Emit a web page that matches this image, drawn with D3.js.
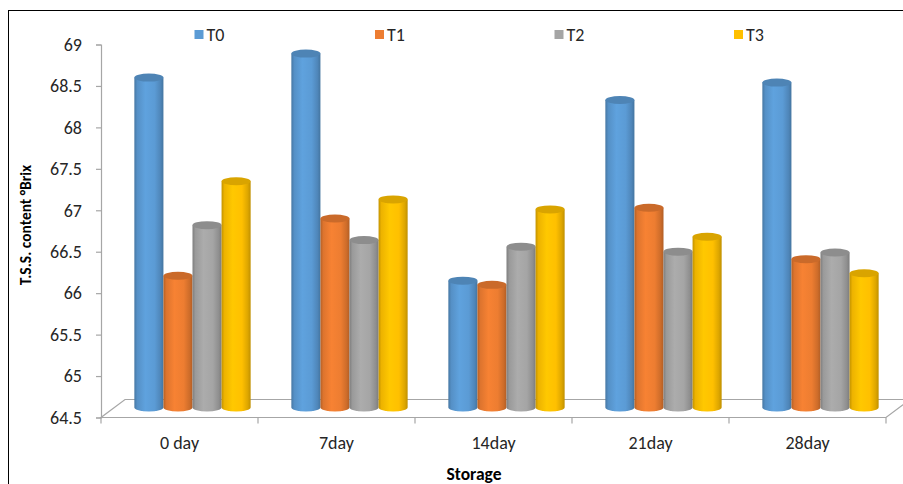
<!DOCTYPE html>
<html>
<head>
<meta charset="utf-8">
<script src="https://cdn.jsdelivr.net/npm/d3@7"></script>
<style>
  html, body { margin: 0; padding: 0; background: #fff; }
  svg { display: block; font-family: Carlito, Lato, "Liberation Sans", sans-serif; }
</style>
</head>
<body>
<svg id="chart" width="903" height="484"></svg>
<script>
// Storage days (categories)
const categories = ["0 day", "7day", "14day", "21day", "28day"];
// Treatments (series)
const seriesNames = ["T0", "T1", "T2", "T3"];
const seriesColors = ["#5B9BD5", "#ED7D31", "#A5A5A5", "#FFC000"];
// T.S.S. content (°Brix) per treatment, in category order
const T0 = [68.48, 68.77, 66.03, 68.21, 68.42];
const T1 = [66.09, 66.78, 65.98, 66.91, 66.29];
const T2 = [66.70, 66.52, 66.44, 66.38, 66.37];
const T3 = [67.23, 67.01, 66.89, 66.56, 66.12];
const seriesValues = [T0, T1, T2, T3];
// Value axis ticks
const yTicks = [64.5, 65, 65.5, 66, 66.5, 67, 67.5, 68, 68.5, 69];

const svg = d3.select("#chart");
const labelFont = 18;

// Outer frame
svg.append("rect")
  .attr("x", 8.5).attr("y", 10.5).attr("width", 910).attr("height", 490)
  .attr("fill", "none").attr("stroke", "#000").attr("stroke-width", 1);

const plotLeft = 101, plotRight = 886;
const y = d3.scaleLinear().domain([64.5, 69]).range([417.5, 44.5]);
const x0 = d3.scaleBand().domain(categories).range([plotLeft, plotRight]);
const x1 = d3.scaleBand().domain(seriesNames).range([0, x0.bandwidth()])
  .paddingInner(0).paddingOuter(0.7);

// Oblique depth of the floor and the depth plane of the bars
const depthX = 24, depthY = -18;
const barDX = 13, barDY = -10;

// Floor
const floorY = y(64.5);
svg.append("path")
  .attr("d", `M${plotLeft},${floorY} L${plotRight},${floorY} L${plotRight + depthX},${floorY + depthY} L${plotLeft + depthX},${floorY + depthY} Z`)
  .attr("fill", "#fff").attr("stroke", "#A6A6A6").attr("stroke-width", 1.2);

// Value axis
const yAxis = svg.append("g").attr("transform", `translate(${plotLeft},0)`)
  .call(d3.axisLeft(y).tickValues(yTicks).tickSize(5).tickPadding(14).tickFormat(d => String(d)));
yAxis.select(".domain").attr("stroke", "#A6A6A6").attr("stroke-width", 1.2);
yAxis.selectAll(".tick line").attr("stroke", "#A6A6A6").attr("stroke-width", 1.2);
yAxis.selectAll(".tick text").attr("fill", "#262626").attr("font-size", labelFont)
  .attr("font-family", "Carlito, Lato, sans-serif");

// Category axis
const xAxis = svg.append("g").attr("transform", `translate(0,${floorY})`)
  .call(d3.axisBottom(x0).tickSize(0).tickPadding(19));
xAxis.select(".domain").remove();
xAxis.selectAll(".tick text").attr("fill", "#262626").attr("font-size", labelFont)
  .attr("font-family", "Carlito, Lato, sans-serif");
// Category boundary ticks
svg.append("g").selectAll("line")
  .data(d3.range(categories.length + 1))
  .join("line")
  .attr("x1", i => plotLeft + i * x0.step()).attr("x2", i => plotLeft + i * x0.step())
  .attr("y1", floorY).attr("y2", floorY + 6)
  .attr("stroke", "#A6A6A6").attr("stroke-width", 1.2);

// Cylinder shading gradients
const defs = svg.append("defs");
seriesColors.forEach((c, i) => {
  const base = d3.color(c);
  const g = defs.append("linearGradient").attr("id", "grad" + i)
    .attr("x1", "0%").attr("x2", "100%").attr("y1", "0%").attr("y2", "0%");
  [[0, base.darker(0.75)], [0.1, base.darker(0.2)], [0.38, base.brighter(0.12)],
   [0.7, base], [0.9, base.darker(0.4)], [1, base.darker(0.8)]]
    .forEach(([o, col]) => g.append("stop").attr("offset", o).attr("stop-color", col.formatHex()));
});

// Bars as cylinders
const bw = x1.bandwidth(), rx = bw / 2, ry = 4;
const bars = [];
categories.forEach((cat, ci) => {
  seriesNames.forEach((s, si) => {
    bars.push({ cat, si, value: seriesValues[si][ci] });
  });
});
const barG = svg.append("g").selectAll("g").data(bars).join("g");
barG.append("path")
  .attr("d", d => {
    const xl = x0(d.cat) + x1(seriesNames[d.si]) + barDX;
    const xr = xl + bw;
    const yt = y(d.value) + barDY;
    const yb = y(64.5) + barDY;
    return `M${xl},${yt} L${xl},${yb} A${rx},${ry} 0 0 0 ${xr},${yb} L${xr},${yt} Z`;
  })
  .attr("fill", d => `url(#grad${d.si})`);
barG.append("ellipse")
  .attr("cx", d => x0(d.cat) + x1(seriesNames[d.si]) + barDX + rx)
  .attr("cy", d => y(d.value) + barDY)
  .attr("rx", rx).attr("ry", ry)
  .attr("fill", d => d3.color(seriesColors[d.si]).darker(0.45).formatHex());

// Legend
const legendX = [194.5, 375, 554.5, 734];
const legend = svg.append("g").selectAll("g").data(seriesNames).join("g")
  .attr("transform", (d, i) => `translate(${legendX[i]},30)`);
legend.append("rect").attr("width", 9).attr("height", 9)
  .attr("fill", (d, i) => seriesColors[i]);
legend.append("text").attr("x", 12).attr("y", 11)
  .attr("font-size", labelFont).attr("fill", "#262626").text(d => d);

// Axis titles
svg.append("text")
  .attr("transform", "translate(31,225) rotate(-90)")
  .attr("text-anchor", "middle").attr("font-weight", "bold")
  .attr("font-size", 15.5).attr("fill", "#000")
  .text("T.S.S. content °Brix");
svg.append("text")
  .attr("x", 474).attr("y", 480)
  .attr("text-anchor", "middle").attr("font-weight", "bold")
  .attr("font-size", 17.5).attr("fill", "#000")
  .text("Storage");
</script>
</body>
</html>
